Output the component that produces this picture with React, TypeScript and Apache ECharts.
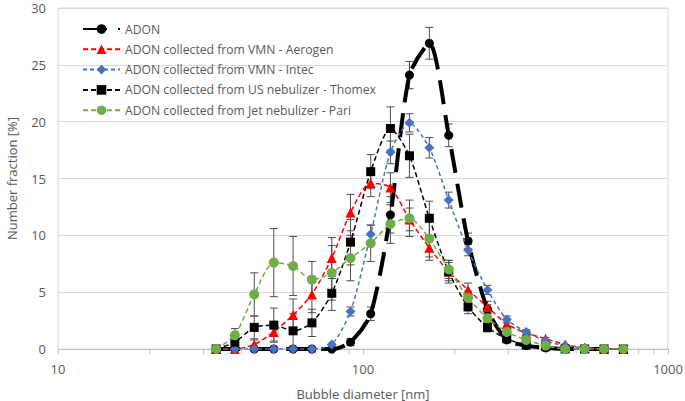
import React, { useEffect, useRef } from "react";
import * as echarts from "echarts";

const diameters = [33, 38, 44, 51, 59, 68, 79, 91, 106, 123, 142, 165, 191, 221, 256, 296, 343, 397, 460, 533, 617, 714];
const adon = [0, 0, 0, 0, 0, 0, 0, 0.6, 3.1, 11.8, 24.1, 26.9, 18.8, 9.5, 3.5, 0.8, 0.3, 0.1, 0, 0, 0, 0];
const adonErr = [0, 0, 0, 0, 0, 0, 0, 0.3, 0.6, 1.6, 1.2, 1.4, 1.0, 0.7, 0.4, 0.2, 0.1, 0, 0, 0, 0, 0];
const aerogen = [0, 0, 0.4, 1.5, 3.0, 4.8, 8.0, 12.0, 14.6, 14.2, 11.4, 8.9, 6.8, 5.2, 3.7, 2.2, 1.4, 0.9, 0.4, 0.1, 0, 0];
const aerogenErr = [0, 0, 0.4, 0.8, 1.4, 1.6, 1.8, 1.6, 1.2, 1.3, 1.0, 1.1, 0.8, 0.6, 0.5, 0.3, 0.2, 0.1, 0, 0, 0, 0];
const intec = [0, 0, 0, 0, 0, 0, 0.4, 3.3, 10.1, 17.3, 19.9, 17.7, 13.1, 8.7, 5.2, 2.6, 1.5, 0.7, 0.3, 0.1, 0, 0];
const intecErr = [0, 0, 0, 0, 0, 0, 0, 0.4, 0.8, 1.0, 0.8, 0.9, 0.7, 0.5, 0.4, 0.3, 0.2, 0.1, 0, 0, 0, 0];
const thomex = [0, 0.6, 1.9, 2.1, 1.6, 2.3, 4.9, 9.4, 15.6, 19.4, 17.0, 11.5, 6.8, 3.7, 1.9, 0.9, 0.35, 0.2, 0, 0, 0, 0];
const thomexErr = [0, 0.6, 1.0, 1.5, 1.5, 1.2, 1.5, 2.0, 1.5, 1.9, 1.9, 1.5, 1.0, 0.6, 0.4, 0.3, 0.1, 0, 0, 0, 0, 0];
const pari = [0, 1.2, 4.8, 7.6, 7.3, 6.1, 6.7, 8.0, 9.3, 11.0, 11.5, 9.7, 7.0, 4.5, 2.7, 1.5, 0.8, 0.3, 0, 0, 0, 0];
const pariErr = [0, 0.6, 1.9, 3.0, 2.6, 1.6, 2.4, 2.0, 1.6, 1.7, 1.6, 1.6, 0.8, 0.6, 0.4, 0.2, 0.1, 0, 0, 0, 0, 0];

const seriesNames = [
  "ADON",
  "ADON collected from VMN - Aerogen",
  "ADON collected from VMN - Intec",
  "ADON collected from US nebulizer - Thomex",
  "ADON collected from Jet nebulizer - Pari",
];
const minorTickValues = [20, 30, 40, 50, 60, 70, 80, 90, 200, 300, 400, 500, 600, 700, 800, 900];
const yTicks = { min: 0, max: 30, interval: 5 };
const xRange = { min: 10, max: 1000 };

const FONT = "Open Sans";
const TEXT = "#595959";

function pairs(values: number[]) {
  return diameters.map((d, i) => [d, values[i]]);
}

function errorSeries(values: number[], errs: number[]) {
  return {
    type: "custom",
    silent: true,
    z: 1,
    data: diameters.map((d, i) => [d, values[i], errs[i]]),
    renderItem: (_p: any, api: any) => {
      const x = api.value(0);
      const y = api.value(1);
      const e = api.value(2);
      if (!e) return null;
      const top = api.coord([x, y + e]);
      const bot = api.coord([x, Math.max(y - e, 0)]);
      const hw = 4;
      const st = { stroke: "#4D4D4D", lineWidth: 1 };
      return {
        type: "group",
        children: [
          { type: "line", shape: { x1: top[0], y1: top[1], x2: bot[0], y2: bot[1] }, style: st },
          { type: "line", shape: { x1: top[0] - hw, y1: top[1], x2: top[0] + hw, y2: top[1] }, style: st },
          { type: "line", shape: { x1: bot[0] - hw, y1: bot[1], x2: bot[0] + hw, y2: bot[1] }, style: st },
        ],
      };
    },
  };
}

export default function App() {
  const ref = useRef<HTMLDivElement>(null);
  useEffect(() => {
    if (!ref.current) return;
    const chart = echarts.init(ref.current, undefined, { renderer: "svg" });
    const smooth = 0.25;
    const option: any = {
      animation: false,
      backgroundColor: "#ffffff",
      textStyle: { fontFamily: FONT },
      grid: {
        left: 58,
        top: 8,
        right: 17,
        bottom: 52,
        show: true,
        borderColor: "#D9D9D9",
        borderWidth: 1,
        containLabel: false,
        outerBoundsMode: "none",
      },
      legend: {
        data: seriesNames,
        orient: "vertical",
        left: 77,
        top: 17,
        itemWidth: 37,
        itemHeight: 12,
        itemGap: 6.3,
        textStyle: { fontFamily: FONT, fontSize: 12.2, color: TEXT, lineHeight: 14 },
      },
      xAxis: {
        type: "log",
        logBase: 10,
        min: xRange.min,
        max: xRange.max,
        name: "Bubble diameter [nm]",
        nameLocation: "middle",
        nameGap: 38,
        nameTextStyle: { fontFamily: FONT, fontSize: 13, color: TEXT },
        axisLine: { show: true, lineStyle: { color: "#BFBFBF", width: 1 } },
        axisTick: { show: true, length: 5, lineStyle: { color: "#BFBFBF" } },
        axisLabel: {
          fontFamily: FONT,
          fontSize: 13,
          color: TEXT,
          margin: 13,
          formatter: (v: number) => String(Math.round(v)),
        },
        splitLine: { show: false },
      },
      yAxis: {
        type: "value",
        min: yTicks.min,
        max: yTicks.max,
        interval: yTicks.interval,
        name: "Number fraction [%]",
        nameLocation: "middle",
        nameGap: 40,
        nameTextStyle: { fontFamily: FONT, fontSize: 13, color: TEXT },
        axisLine: { show: false },
        axisTick: { show: false },
        axisLabel: { fontFamily: FONT, fontSize: 13, color: TEXT, margin: 12 },
        splitLine: { show: true, lineStyle: { color: "#D9D9D9", width: 1 } },
      },
      series: [
        {
          type: "custom",
          silent: true,
          data: minorTickValues.map((v) => [v, 0]),
          renderItem: (_p: any, api: any) => {
            const c = api.coord([api.value(0), 0]);
            return {
              type: "line",
              shape: { x1: c[0], y1: c[1], x2: c[0], y2: c[1] + 5 },
              style: { stroke: "#BFBFBF", lineWidth: 1 },
            };
          },
        },
        errorSeries(adon, adonErr),
        errorSeries(aerogen, aerogenErr),
        errorSeries(intec, intecErr),
        errorSeries(thomex, thomexErr),
        errorSeries(pari, pariErr),
        {
          name: seriesNames[0],
          type: "line",
          data: pairs(adon),
          smooth,
          z: 3,
          symbol: "circle",
          symbolSize: 9,
          itemStyle: { color: "#000000" },
          lineStyle: { color: "#000000", width: 4, type: [24, 11] },
        },
        {
          name: seriesNames[1],
          type: "line",
          data: pairs(aerogen),
          smooth,
          z: 4,
          symbol: "triangle",
          symbolSize: 10,
          itemStyle: { color: "#FF0000" },
          lineStyle: { color: "#FF0000", width: 1.5, type: [5, 3] },
        },
        {
          name: seriesNames[2],
          type: "line",
          data: pairs(intec),
          smooth,
          z: 5,
          symbol: "diamond",
          symbolSize: 10,
          itemStyle: { color: "#4472C4" },
          lineStyle: { color: "#4472C4", width: 1.5, type: [4, 3] },
        },
        {
          name: seriesNames[3],
          type: "line",
          data: pairs(thomex),
          smooth,
          z: 6,
          symbol: "rect",
          symbolSize: 9,
          itemStyle: { color: "#000000" },
          lineStyle: { color: "#000000", width: 1.5, type: [5, 3] },
        },
        {
          name: seriesNames[4],
          type: "line",
          data: pairs(pari),
          smooth,
          z: 7,
          symbol: "circle",
          symbolSize: 10,
          itemStyle: { color: "#70AD47" },
          lineStyle: { color: "#70AD47", width: 1.5, type: [5, 3] },
        },
      ],
    };
    chart.setOption(option);
    return () => chart.dispose();
  }, []);
  return (
    <div
      ref={ref}
      style={{ position: "fixed", left: 0, top: 0, width: 685, height: 401, background: "#fff" }}
    />
  );
}
